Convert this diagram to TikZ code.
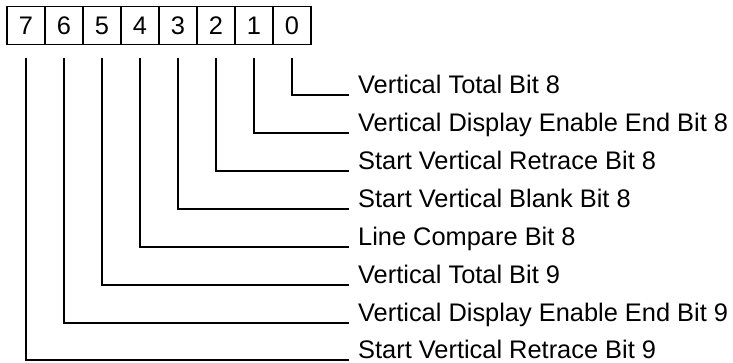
\documentclass[tikz,border=0pt]{standalone}
\usepackage{fontspec}
\setmainfont{Liberation Sans}
\usepackage{tikz}
\usetikzlibrary{positioning}

\begin{document}
\begin{tikzpicture}[
  x=1pt, y=1pt,
  bitcell/.style={draw, line width=1.4pt, minimum width=38pt, minimum height=38pt, inner sep=0pt, font=\fontsize{25.4}{28}\selectfont},
  fieldlbl/.style={anchor=base west, inner sep=0pt, font=\fontsize{25.4}{28}\selectfont},
  wire/.style={line width=1.6pt}
]
  \useasboundingbox (0,0) rectangle (733,-362);
  \node[bitcell] (b7) at (26, -25.5) {7};
  \node[bitcell] (b6) at (64, -25.5) {6};
  \node[bitcell] (b5) at (102, -25.5) {5};
  \node[bitcell] (b4) at (140, -25.5) {4};
  \node[bitcell] (b3) at (178, -25.5) {3};
  \node[bitcell] (b2) at (216, -25.5) {2};
  \node[bitcell] (b1) at (254, -25.5) {1};
  \node[bitcell] (b0) at (292, -25.5) {0};

  \node[fieldlbl] (f0) at (358, -93) {Vertical Total Bit 8};
  \node[fieldlbl] (f1) at (358, -131) {Vertical Display Enable End Bit 8};
  \node[fieldlbl] (f2) at (358, -169) {Start Vertical Retrace Bit 8};
  \node[fieldlbl] (f3) at (358, -207) {Start Vertical Blank Bit 8};
  \node[fieldlbl] (f4) at (358, -245) {Line Compare Bit 8};
  \node[fieldlbl] (f5) at (358, -283) {Vertical Total Bit 9};
  \node[fieldlbl] (f6) at (358, -321) {Vertical Display Enable End Bit 9};
  \node[fieldlbl] (f7) at (358, -358) {Start Vertical Retrace Bit 9};

  \draw[wire] ([yshift=-13pt]b0.south) |- ([xshift=-9pt, yshift=-2pt]f0.base west);
  \draw[wire] ([yshift=-13pt]b1.south) |- ([xshift=-9pt, yshift=-2pt]f1.base west);
  \draw[wire] ([yshift=-13pt]b2.south) |- ([xshift=-9pt, yshift=-2pt]f2.base west);
  \draw[wire] ([yshift=-13pt]b3.south) |- ([xshift=-9pt, yshift=-2pt]f3.base west);
  \draw[wire] ([yshift=-13pt]b4.south) |- ([xshift=-9pt, yshift=-2pt]f4.base west);
  \draw[wire] ([yshift=-13pt]b5.south) |- ([xshift=-9pt, yshift=-2pt]f5.base west);
  \draw[wire] ([yshift=-13pt]b6.south) |- ([xshift=-9pt, yshift=-2pt]f6.base west);
  \draw[wire] ([yshift=-13pt]b7.south) |- ([xshift=-9pt, yshift=-2pt]f7.base west);
\end{tikzpicture}
\end{document}
